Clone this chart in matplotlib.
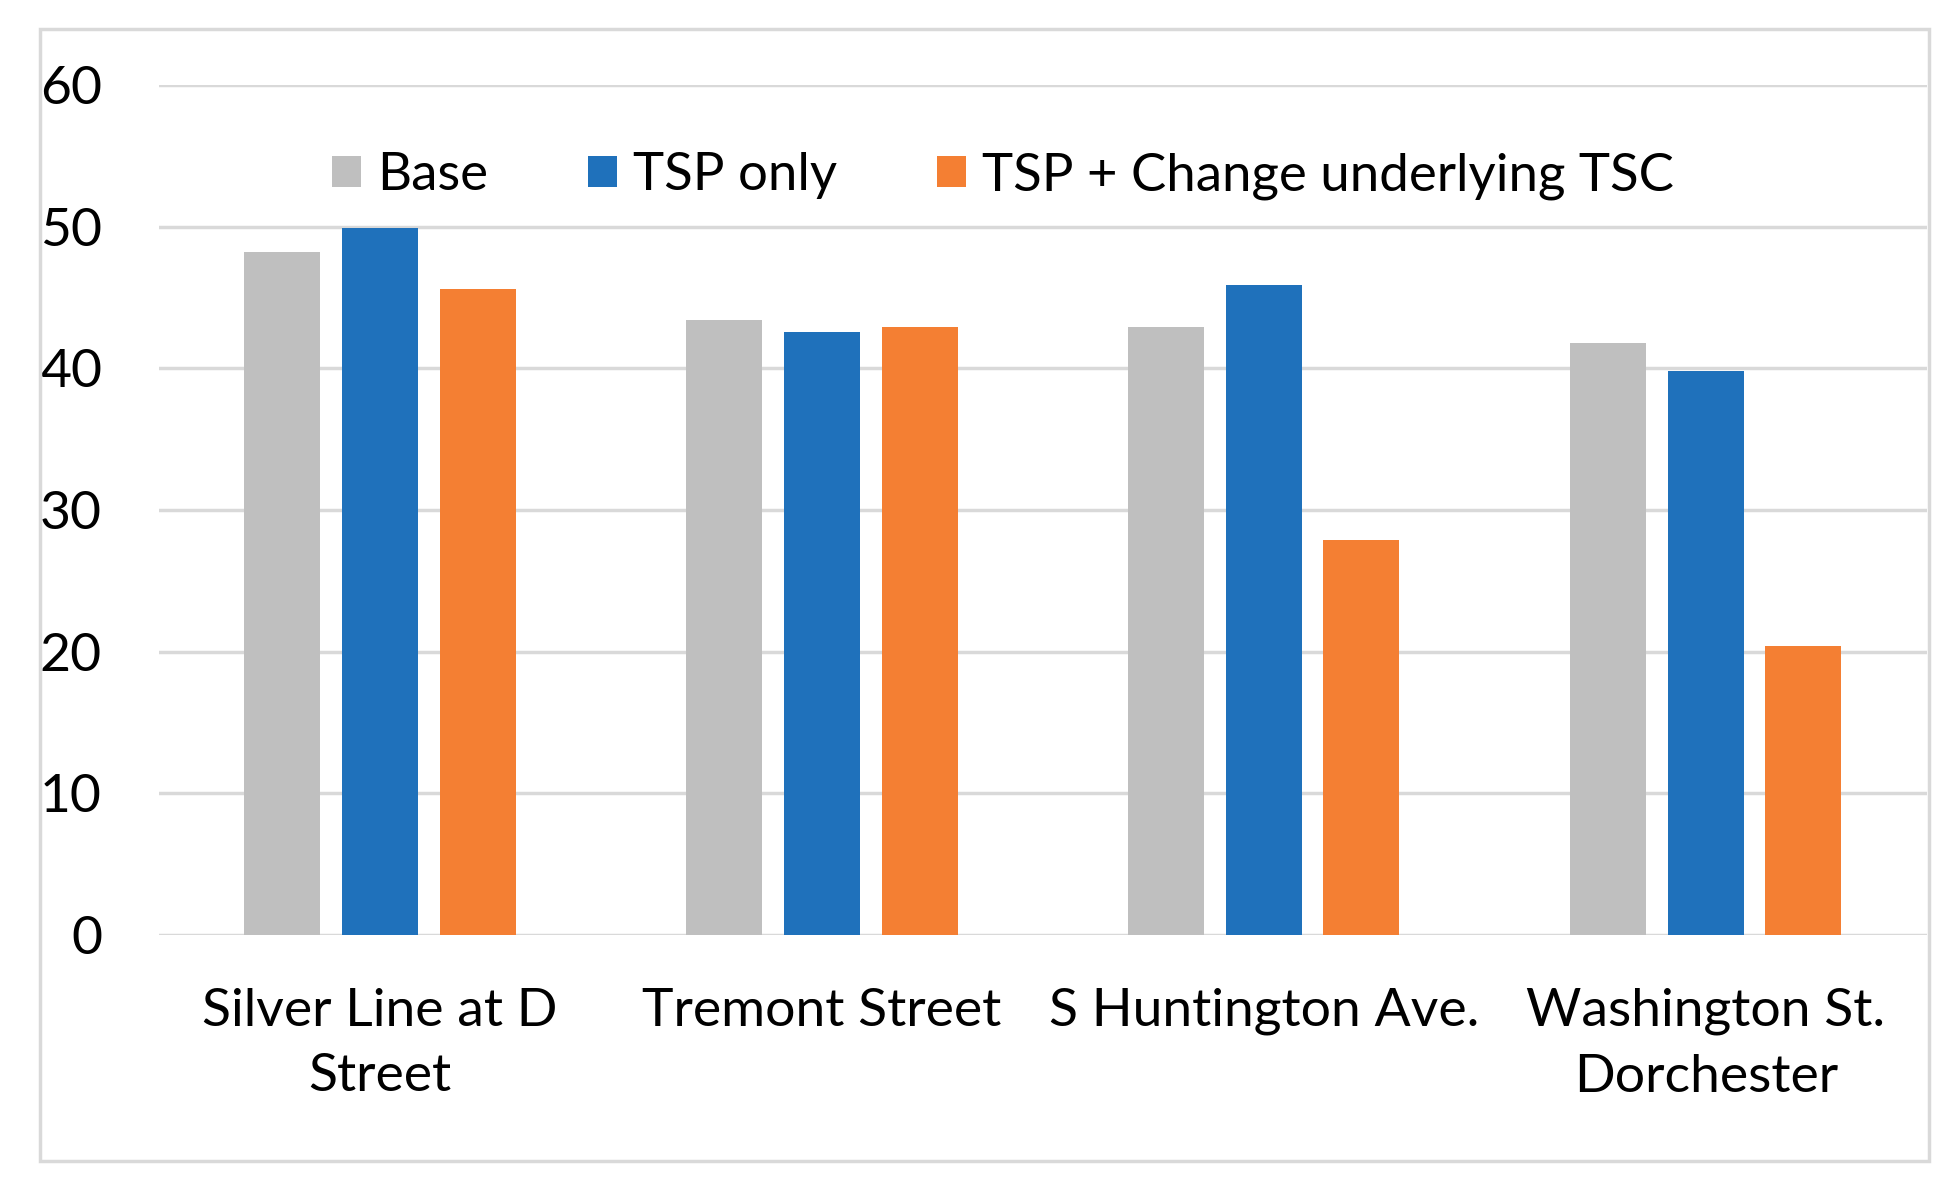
import matplotlib
matplotlib.use("Agg")
import matplotlib.pyplot as plt
import numpy as np
from matplotlib.patches import Rectangle

categories = ["Silver Line at D\nStreet", "Tremont Street", "S Huntington Ave.", "Washington St.\nDorchester"]
series_names = ["Base", "TSP only", "TSP + Change underlying TSC"]
base = [48.2, 43.4, 42.9, 41.8]
tsp_only = [49.9, 42.6, 45.9, 39.8]
tsp_change = [45.6, 42.9, 27.9, 20.4]
yticks = [0, 10, 20, 30, 40, 50, 60]

colors = ["#BFBFBF", "#1F71BB", "#F47F33"]

plt.rcParams['font.family'] = ['Lato', 'DejaVu Sans']

fig = plt.figure(figsize=(19.58, 11.94), dpi=100)
ax = fig.add_axes([0.0812, 0.2169, 0.984 - 0.0812, 0.9288 - 0.2169])

# figure frame
fig.patches.append(Rectangle((40/1958, 1 - 1161/1194), (1929-40)/1958, (1161-29)/1194,
                             transform=fig.transFigure, fill=False, edgecolor="#D9D9D9",
                             linewidth=2.5, zorder=0))

x = np.arange(len(categories))
width = 0.172
offset = 0.221
for i, (vals, name) in enumerate(zip([base, tsp_only, tsp_change], series_names)):
    ax.bar(x + (i - 1) * offset, vals, width, color=colors[i], label=name, zorder=3)

ax.set_xlim(-0.5, 3.5)
ax.set_ylim(0, 60)
ax.set_yticks(yticks)
ax.set_yticklabels([str(t) for t in yticks])
ax.set_xticks(x)
ax.set_xticklabels(categories, linespacing=1.48)
ax.tick_params(axis='both', length=0, labelsize=38.5, colors="#000000")
ax.tick_params(axis='y', pad=41)
ax.tick_params(axis='x', pad=38)
ax.grid(axis='y', color="#D9D9D9", linewidth=2.5, zorder=0)
for s in ax.spines.values():
    s.set_visible(False)

leg = ax.legend(loc='center', bbox_to_anchor=(1003/1958, 1 - 176/1194),
                bbox_transform=fig.transFigure, ncol=3, frameon=False, fontsize=38,
                handlelength=0.55, handleheight=0.55, handletextpad=0.3,
                columnspacing=1.9)

fig.savefig("out.png", dpi=100, facecolor="white")
